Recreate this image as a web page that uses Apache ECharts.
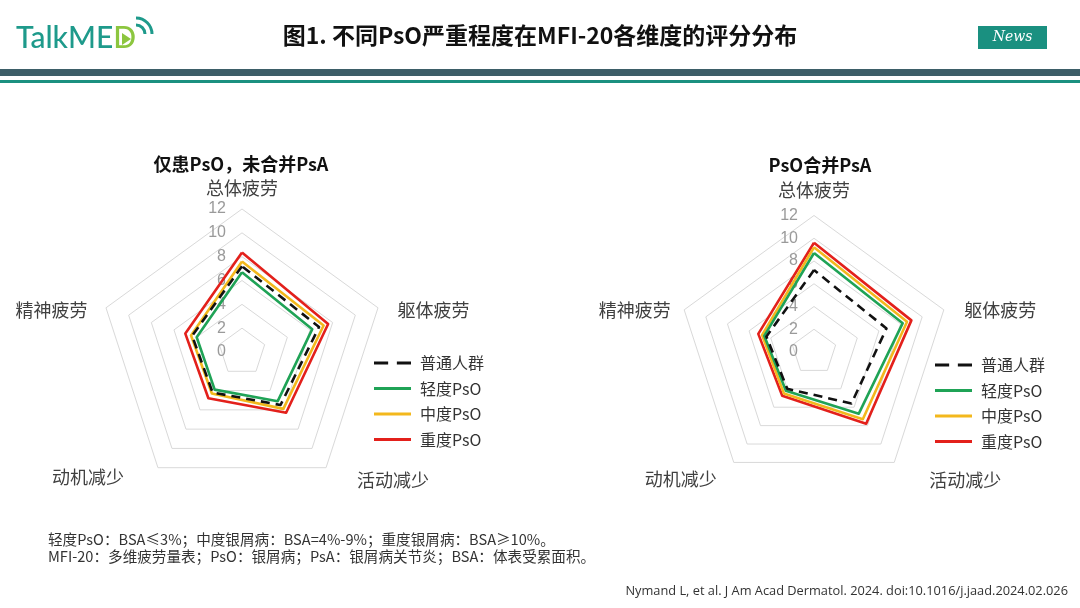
<!DOCTYPE html>
<html>
<head>
<meta charset="utf-8">
<title>MFI-20 PsO radar</title>
<script src="https://cdn.jsdelivr.net/npm/echarts@6.0.0/dist/echarts.min.js"></script>
<style>
  html, body { margin: 0; padding: 0; background: #fff; }
  #chart { width: 1080px; height: 608px; }
</style>
</head>
<body>
<div id="chart"></div>
<script>
// 维度（按图中顺时针：上、右上、右下、左下、左上）
var dims = ['总体疲劳', '躯体疲劳', '活动减少', '动机减少', '精神疲劳'];
var groups = ['普通人群', '轻度PsO', '中度PsO', '重度PsO'];
var tickMax = 12;

// 仅患PsO，未合并PsA
var leftGeneral = [7.2, 6.8, 5.5, 4.2, 4.4];
var leftMild = [6.7, 6.2, 5.1, 3.9, 4.0];
var leftModerate = [7.6, 7.2, 5.9, 4.3, 4.5];
var leftSevere = [8.35, 7.6, 6.3, 4.8, 5.0];

// PsO合并PsA
var rightGeneral = [7.2, 6.7, 5.6, 4.0, 4.4];
var rightMild = [8.7, 8.2, 6.7, 4.2, 4.6];
var rightModerate = [9.2, 8.6, 7.3, 4.5, 4.8];
var rightSevere = [9.6, 9.0, 7.8, 4.75, 5.15];

var colors = {
  '普通人群': '#111111',
  '轻度PsO': '#1fa356',
  '中度PsO': '#f3b81c',
  '重度PsO': '#e3201b'
};
var cjk = '"Noto Sans CJK SC", "Noto Sans", sans-serif';

// echarts 的雷达图是逆时针排的，这里换一下顺序
var order = [0, 4, 3, 2, 1];
function reorder(arr) {
  return order.map(function (i) { return arr[i]; });
}

// 每个维度名称用 rich 微调位置，贴近原图
var nameKeys = ['top', 'ur', 'lr', 'll', 'ul'];
function makeRadar(center, radius, pads) {
  var rich = {};
  nameKeys.forEach(function (k, i) {
    rich[k] = { fontSize: 18, color: '#404040', fontFamily: cjk, padding: pads[i] };
  });
  return {
    center: center,
    radius: radius,
    startAngle: 90,
    splitNumber: 6,
    shape: 'polygon',
    nameGap: 12,
    axisName: {
      color: '#404040',
      fontSize: 18,
      fontFamily: cjk,
      formatter: function (name) {
        return '{' + nameKeys[dims.indexOf(name)] + '|' + name + '}';
      },
      rich: rich
    },
    splitLine: { lineStyle: { color: '#d9d9d9', width: 1 } },
    splitArea: { show: false },
    axisLine: { show: false },
    axisTick: { show: false },
    axisLabel: { show: false },
    indicator: reorder(dims).map(function (d, i) {
      var ind = { name: d, min: 0, max: tickMax };
      if (i === 0) {
        ind.axisLabel = {
          show: true,
          color: '#9a9a9a',
          fontSize: 16,
          fontFamily: 'Liberation Sans, sans-serif',
          align: 'right',
          margin: 16
        };
      }
      return ind;
    })
  };
}

function makeSeries(radarIndex, values) {
  // 先画重度，最后画普通人群（虚线在最上层）
  var data = [];
  for (var i = groups.length - 1; i >= 0; i--) {
    var g = groups[i];
    data.push({
      name: g,
      value: reorder(values[i]),
      symbol: 'none',
      lineStyle: {
        color: colors[g],
        width: 2.6,
        type: g === '普通人群' ? [9, 6] : 'solid'
      },
      itemStyle: { color: colors[g] }
    });
  }
  return {
    type: 'radar',
    radarIndex: radarIndex,
    silent: true,
    data: data
  };
}

function makeLegend(left, top) {
  return {
    orient: 'vertical',
    left: left,
    top: top,
    padding: 0,
    itemWidth: 37,
    itemHeight: 3,
    itemGap: 9.5,
    symbolKeepAspect: false,
    selectedMode: false,
    itemStyle: { borderWidth: 0 },
    textStyle: { fontSize: 16, color: '#333', fontFamily: cjk, padding: [0, 0, 0, 4] },
    data: groups.map(function (g) {
      return {
        name: g,
        icon: g === '普通人群' ? 'path://M0,0h13v3H0z M21,0h13v3H21z' : 'rect'
      };
    })
  };
}

var chart = echarts.init(document.getElementById('chart'));

var option = {
  backgroundColor: '#ffffff',
  animation: false,
  title: [{
    text: '仅患PsO，未合并PsA',
    left: 236,
    top: 150,
    textAlign: 'center',
    textStyle: { fontSize: 18, fontWeight: 'bold', color: '#111', fontFamily: cjk }
  }, {
    text: 'PsO合并PsA',
    left: 815,
    top: 151,
    textAlign: 'center',
    textStyle: { fontSize: 18, fontWeight: 'bold', color: '#111', fontFamily: cjk }
  }],
  legend: [makeLegend(374, 355), makeLegend(935, 357)],
  radar: [
    makeRadar([242, 352], 143, [[0, 0, 0, 0], [12, 0, 0, 8], [6, 0, 0, 24], [0, 27, 0, 0], [12, 7, 0, 0]]),
    makeRadar([814, 352], 136.5, [[0, 0, 4, 0], [9, 0, 0, 9], [17, 0, 0, 28], [15, 10, 0, 0], [9, 2, 0, 0]])
  ],
  series: [
    makeSeries(0, [leftGeneral, leftMild, leftModerate, leftSevere]),
    makeSeries(1, [rightGeneral, rightMild, rightModerate, rightSevere])
  ],
  graphic: [
    // 顶部 logo
    {
      type: 'text', left: 16, top: 23,
      style: {
        text: '{a|TalkME}{b|D}',
        rich: {
          a: { fontSize: 30, fontFamily: 'Lato, sans-serif', fill: '#1e9a8b', fontWeight: 500 },
          b: { fontSize: 30, fontFamily: 'Lato, sans-serif', fill: '#8cc63f', fontWeight: 500 }
        }
      }
    },
    { type: 'polygon', shape: { points: [[122, 33], [122, 45], [131, 39]] }, style: { fill: '#8cc63f' } },
    { type: 'arc', shape: { cx: 136, cy: 34, r: 9, startAngle: -Math.PI / 2, endAngle: 0 },
      style: { stroke: '#1e9a8b', lineWidth: 3, fill: null } },
    { type: 'arc', shape: { cx: 136, cy: 34, r: 16, startAngle: -Math.PI / 2, endAngle: 0 },
      style: { stroke: '#1e9a8b', lineWidth: 3, fill: null } },
    // 标题
    {
      type: 'text', left: 'center', top: 24,
      style: {
        text: '图1. 不同PsO严重程度在MFI-20各维度的评分分布',
        fontSize: 23, fontWeight: 'bold', fill: '#111', fontFamily: cjk
      }
    },
    // News 标签
    {
      type: 'group', left: 978, top: 26,
      children: [
        { type: 'rect', shape: { x: 0, y: 0, width: 69, height: 23 }, style: { fill: '#1a9080' } },
        { type: 'text', x: 34.5, y: 11.5,
          style: { text: 'News', fill: '#fff', fontSize: 14, fontStyle: 'italic', fontFamily: 'DejaVu Serif, serif', align: 'center', verticalAlign: 'middle' } }
      ]
    },
    // 分隔线
    { type: 'rect', shape: { x: 0, y: 69, width: 1080, height: 7 }, style: { fill: '#3d5e68' } },
    { type: 'rect', shape: { x: 0, y: 80, width: 1080, height: 3 }, style: { fill: '#1b9080' } },
    // 脚注
    {
      type: 'text', left: 48, top: 531,
      style: {
        text: '轻度PsO：BSA≤3%；中度银屑病：BSA=4%-9%；重度银屑病：BSA≥10%。\nMFI-20：多维疲劳量表；PsO：银屑病；PsA：银屑病关节炎；BSA：体表受累面积。',
        fontSize: 14.6, lineHeight: 17, fill: '#333', fontFamily: cjk
      }
    },
    {
      type: 'text', right: 12, top: 585,
      style: {
        text: 'Nymand L, et al. J Am Acad Dermatol. 2024. doi:10.1016/j.jaad.2024.02.026',
        fontSize: 12.8, fill: '#333', fontFamily: '"Open Sans", sans-serif'
      }
    }
  ]
};

chart.setOption(option);
</script>
</body>
</html>
